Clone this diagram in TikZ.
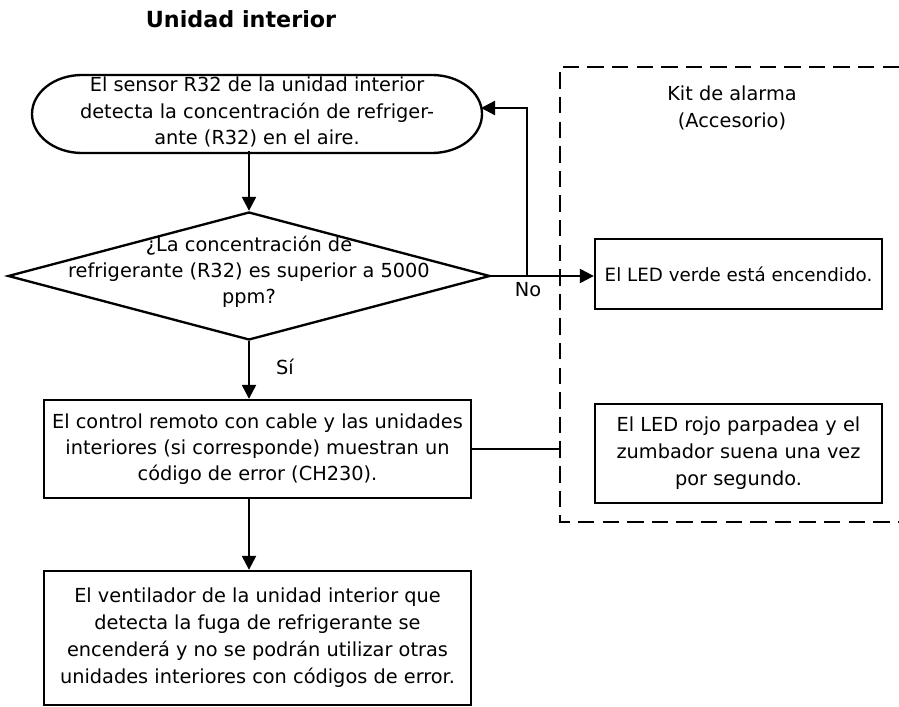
\documentclass[tikz,border=0pt]{standalone}
\usepackage{fontspec}
\setmainfont{DejaVu Sans}
\usetikzlibrary{arrows.meta,shapes.geometric,calc}
\def\pxu{0.03cm}
\begin{document}
\begin{tikzpicture}[x=0.03cm,y=-0.03cm,
  every node/.style={font=\fontsize{16.5}{22.3}\selectfont, align=center, inner sep=0pt},
  ln/.style={line width=2pt},
  box/.style={draw, ln, rectangle},
  arr/.style={ln, -{Triangle[length=12pt,width=12pt]}},
  dashbox/.style={ln, dash pattern=on 14pt off 7pt}]
\useasboundingbox (0,0) rectangle (899,707);
% title
\node[font=\bfseries\fontsize{19}{23}\selectfont] (title) at (241,19) {Unidad interior};
% terminator
\node[minimum width=450*\pxu, minimum height=78*\pxu] (term) at (257,112)
  {El sensor R32 de la unidad interior\\detecta la concentración de refriger-\\ante (R32) en el aire.};
\draw[ln] (82,75) -- (432,75) arc[start angle=90,end angle=-90,x radius=1.5cm,y radius=1.17cm]
  -- (82,153) arc[start angle=270,end angle=90,x radius=1.5cm,y radius=1.17cm] -- cycle;
\coordinate (termR) at (481,108);
% decision
\node[draw, ln, diamond, minimum width=482*\pxu, minimum height=128*\pxu] (diam) at (249,276) {};
\node (dtext) at (249,272) {¿La concentración de\\refrigerante (R32) es superior a 5000\\ppm?};
% process boxes
\node[box, minimum width=427*\pxu, minimum height=98*\pxu] (ctrl) at (257.5,449)
  {El control remoto con cable y las unidades\\interiores (si corresponde) muestran un\\código de error (CH230).};
\node[box, minimum width=427*\pxu, minimum height=134*\pxu, font=\fontsize{16.5}{23}\selectfont] (fin) at (257.5,638)
  {El ventilador de la unidad interior que\\detecta la fuga de refrigerante se\\encenderá y no se podrán utilizar otras\\unidades interiores con códigos de error.};
% alarm kit
\draw[dashbox] (899,67) -- (560,67) -- (560,522) -- (899,522);
\coordinate (kitL) at (560,0);
\coordinate (jn) at (527,0);
\node[font=\fontsize{16.5}{23}\selectfont] (kit) at (732,108) {Kit de alarma\\(Accesorio)};
\node[box, minimum width=287*\pxu, minimum height=70*\pxu, font=\fontsize{15.6}{22}\selectfont] (green) at (738.5,274) {El LED verde está encendido.};
\node[box, minimum width=287*\pxu, minimum height=99*\pxu, font=\fontsize{16.5}{23}\selectfont] (red) at (738.5,453.5)
  {El LED rojo parpadea y el\\zumbador suena una vez\\por segundo.};
% connectors
\draw[arr] (diam.north |- term.south) -- (diam.north);
\draw[arr] (diam.east) -- (diam.east -| green.west);
\draw[arr] (diam.east -| jn) |- (termR);
\node (no) at (528,290) {No};
\draw[arr] (diam.south) -- (diam.south |- ctrl.north);
\node (si) at (285,367) {Sí};
\draw[ln] (ctrl.east) -- (ctrl.east -| kitL);
\draw[arr] (ctrl.south -| diam.south) -- (diam.south |- fin.north);
\end{tikzpicture}
\end{document}
